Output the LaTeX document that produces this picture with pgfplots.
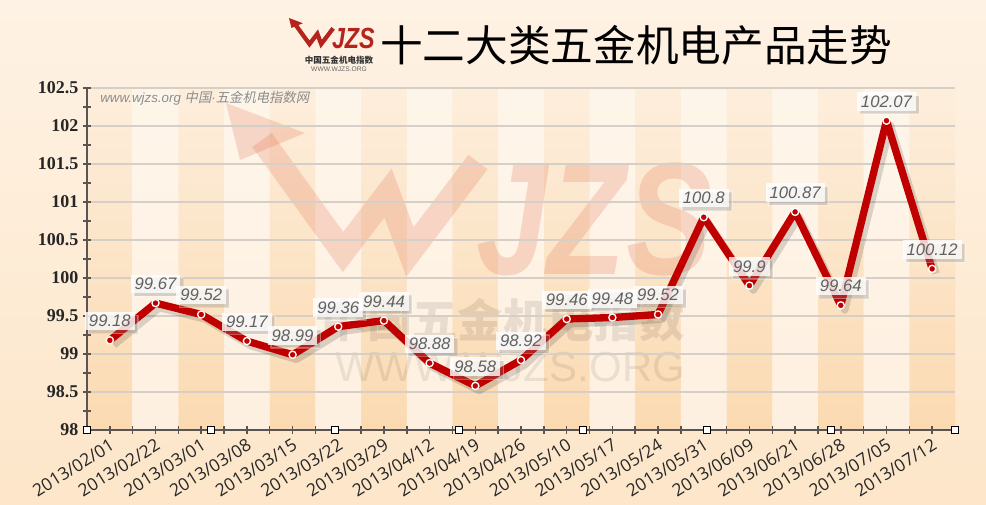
\documentclass[border=0pt]{standalone}
\usepackage{fontspec}
\setmainfont{Liberation Sans}
\newfontfamily\cjk{Noto Sans CJK SC}
\newfontfamily\cjkit{Noto Sans CJK SC}[FakeSlant=0.2]
\newfontfamily\numfont{Liberation Serif}
\newfontfamily\datefont{Open Sans}
\usepackage{pgfplots}
\pgfplotsset{compat=1.18}
\usetikzlibrary{shadows}

\definecolor{bgtop}{HTML}{FEF2E4}
\definecolor{bgbot}{HTML}{FDE6C9}
\definecolor{darktop}{HTML}{FDEEDC}
\definecolor{darkbot}{HTML}{FBDAB1}
\definecolor{lighttop}{HTML}{FEF5EA}
\definecolor{lightbot}{HTML}{FEF0E0}
\definecolor{linered}{HTML}{C00000}
\definecolor{axisgray}{HTML}{5A5552}
\definecolor{gridgray}{HTML}{D6CFC8}
\definecolor{wmred}{HTML}{E06A4A}
\definecolor{logored}{HTML}{B5241C}

% index values, one row per week
\pgfplotstableread{
x y lbl
0 99.18 99.18
1 99.67 99.67
2 99.52 99.52
3 99.17 99.17
4 98.99 98.99
5 99.36 99.36
6 99.44 99.44
7 98.88 98.88
8 98.58 98.58
9 98.92 98.92
10 99.46 99.46
11 99.48 99.48
12 99.52 99.52
13 100.8 100.8
14 99.9 99.9
15 100.87 100.87
16 99.64 99.64
17 102.07 102.07
18 100.12 100.12
}\indexdata

\pgfplotsset{
  base/.style={
    scale only axis, width=651pt, height=256.5pt,
    at={(65.25pt,-322.5pt)}, anchor=south west,
    xmin=-0.5, xmax=18.5,
  },
}

% the WJZS mark, drawn in pixel coordinates
\newcommand\wjzs[3]{%
  \fill[#1] (226,103) -- (305,133) -- (240,160) -- cycle;
  \draw[#1, line width=#2, line join=miter] (262,140) -- (343,252) -- (388,193) -- (410,252) -- (478,162);
  \node[#1, transform shape, xscale=0.8, inner sep=0pt,
        font=\bfseries\itshape\fontsize{#3}{#3}\selectfont] at (594,219) {JZS};
}

\begin{document}
\begin{tikzpicture}
\begin{scope}[x=0.75pt,y=-0.75pt]
  \shade[top color=bgtop, bottom color=bgbot] (0,0) rectangle (986,505);
\end{scope}

% alternating bands
\begin{axis}[base, ymin=0, ymax=4.5, hide axis]
\addplot[ybar, bar width=1, bar shift=0pt, draw=none, shade,
  top color=darktop, bottom color=darkbot]
  coordinates {(0,4.5) (2,4.5) (4,4.5) (6,4.5) (8,4.5) (10,4.5) (12,4.5) (14,4.5) (16,4.5) (18,4.5)};
\addplot[ybar, bar width=1, bar shift=0pt, draw=none, shade,
  top color=lighttop, bottom color=lightbot]
  coordinates {(1,4.5) (3,4.5) (5,4.5) (7,4.5) (9,4.5) (11,4.5) (13,4.5) (15,4.5) (17,4.5)};
\end{axis}

% watermark
\begin{scope}[x=0.75pt,y=-0.75pt]
  \begin{scope}[opacity=0.22]
    \wjzs{wmred}{18pt}{120}
  \end{scope}
  \node[text=black, opacity=0.09, font=\cjk\bfseries\fontsize{34}{36}\selectfont] at (503,320) {中国五金机电指数};
  \node[text=black, opacity=0.08, font=\fontsize{31.5}{33}\selectfont] at (510,367) {WWW.WJZS.ORG};
\end{scope}

\begin{axis}[base, ymin=98, ymax=102.5, clip=false,
  axis x line*=bottom, axis y line*=left,
  axis line style={draw=axisgray, line width=1.2pt, -},
  xtick={0,...,18},
  minor xtick={-0.5,0.5,...,18.5},
  xticklabels={2013/02/01,2013/02/22,2013/03/01,2013/03/08,2013/03/15,2013/03/22,2013/03/29,2013/04/12,2013/04/19,2013/04/26,2013/05/10,2013/05/17,2013/05/24,2013/05/31,2013/06/09,2013/06/21,2013/06/28,2013/07/05,2013/07/12},
  ytick={98,98.5,99,99.5,100,100.5,101,101.5,102,102.5},
  minor ytick={98.25,98.75,99.25,99.75,100.25,100.75,101.25,101.75,102.25},
  tick align=center, major tick length=6pt, minor tick length=6pt,
  tick style={draw=axisgray, line width=1.1pt},
  ymajorgrids, grid style={draw=gridgray, line width=1.1pt},
  /pgf/number format/assume math mode=true,
  yticklabel style={font=\numfont\bfseries\fontsize{13.5}{15}\selectfont, text=black!85},
  xticklabel style={font=\datefont\fontsize{13}{14}\selectfont, text=black!85,
    rotate=32, anchor=north east, inner sep=2pt},
]
\addplot[draw=black, opacity=0.14, line width=5.5pt, line join=round, xshift=3pt, yshift=-3.5pt]
  table[x=x,y=y]{\indexdata};
\addplot[draw=linered, line width=5.5pt, line join=round,
  mark=*, mark size=2.7pt, mark options={fill=linered, draw=white, line width=1pt},
  nodes near coords, point meta=explicit symbolic,
  every node near coord/.append style={anchor=south, yshift=7pt,
    font=\itshape\fontsize{12.5}{14}\selectfont, text=black!62,
    fill=white, fill opacity=0.8, text opacity=1, inner xsep=3pt, inner ysep=2.5pt,
    drop shadow={shadow xshift=2.5pt, shadow yshift=-2.5pt, opacity=0.3}}]
  table[x=x,y=y,meta=lbl]{\indexdata};
\addplot[only marks, mark=square*, mark size=2.8pt,
  mark options={fill=white, draw=black, line width=0.8pt}]
  coordinates {(-0.5,98) (2.2143,98) (4.9286,98) (7.6429,98) (10.3571,98) (13.0714,98) (15.7857,98) (18.5,98)};
\end{axis}

\begin{scope}[x=0.75pt,y=-0.75pt]
  \node[font=\cjk\fontsize{32}{36}\selectfont] at (636,45) {十二大类五金机电产品走势};
  \node[anchor=west, text=black!45, font=\itshape\fontsize{10}{12}\selectfont, inner sep=0pt] at (100,98)
    {www.wjzs.org {\cjkit 中国}·{\cjkit 五金机电指数网}};
  \begin{scope}[shift={(289,18)}, scale=0.175, shift={(-226,-103)}]
    \wjzs{logored}{3.2pt}{125}
  \end{scope}
  \node[text=black!80, font=\cjk\bfseries\fontsize{6.4}{7}\selectfont] at (339,60) {中国五金机电指数};
  \node[text=black!60, font=\fontsize{5}{6}\selectfont] at (339,69) {WWW.WJZS.ORG};
\end{scope}
\end{tikzpicture}
\end{document}
